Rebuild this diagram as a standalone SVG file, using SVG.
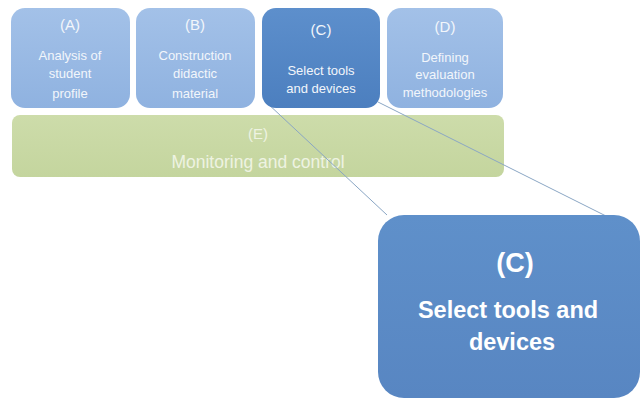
<svg xmlns="http://www.w3.org/2000/svg" width="640" height="401" viewBox="0 0 640 401">
<defs>
<linearGradient id="gLight" x1="0" y1="0" x2="0" y2="1">
<stop offset="0" stop-color="#a3c1e8"/>
<stop offset="1" stop-color="#8fb2e0"/>
</linearGradient>
<linearGradient id="gDark" x1="0" y1="0" x2="0" y2="1">
<stop offset="0" stop-color="#5d8fcc"/>
<stop offset="1" stop-color="#4c7fbf"/>
</linearGradient>
<linearGradient id="gGreen" x1="0" y1="0" x2="0" y2="1">
<stop offset="0" stop-color="#cddcaa"/>
<stop offset="1" stop-color="#c4d59e"/>
</linearGradient>
<linearGradient id="gBig" x1="0" y1="0" x2="0" y2="1">
<stop offset="0" stop-color="#5f90ca"/>
<stop offset="1" stop-color="#5886c2"/>
</linearGradient>
</defs>
<style>
text{font-family:"Liberation Sans","DejaVu Sans",sans-serif;text-anchor:middle;fill:#f2f6fb}
.lbl{font-size:15px}
.sm{font-size:13px}
.e1{font-size:15px;fill:#eef3e2}
.e2{font-size:17.5px;fill:#eef3e2}
.big1{font-size:27px;font-weight:bold;fill:#ffffff}
.big2{font-size:23.5px;font-weight:bold;fill:#ffffff}
.conn{stroke:#8aa6c4;stroke-width:1;fill:none}
</style>
<rect width="640" height="401" fill="#ffffff"/>
<g id="nodeE">
<rect x="12" y="115" width="492" height="62" rx="8" fill="url(#gGreen)"/>
<text class="e1" x="258" y="139">(E)</text>
<text class="e2" x="258" y="168">Monitoring and control</text>
</g>
<g id="connectors">
<line class="conn" x1="266" y1="102" x2="387" y2="215"/>
<line class="conn" x1="378" y1="102" x2="606" y2="216"/>
</g>
<g id="nodeA">
<rect x="11" y="8" width="119" height="100" rx="14" fill="url(#gLight)"/>
<text class="lbl" x="70" y="30">(A)</text>
<text class="sm" x="70" y="60">Analysis of</text>
<text class="sm" x="70" y="78">student</text>
<text class="sm" x="70" y="98">profile</text>
</g>
<g id="nodeB">
<rect x="136" y="8" width="119" height="100" rx="14" fill="url(#gLight)"/>
<text class="lbl" x="195" y="30">(B)</text>
<text class="sm" x="195" y="60">Construction</text>
<text class="sm" x="195" y="78">didactic</text>
<text class="sm" x="195" y="98">material</text>
</g>
<g id="nodeC">
<rect x="262" y="8" width="118" height="100" rx="14" fill="url(#gDark)"/>
<text class="lbl" x="321" y="35">(C)</text>
<text class="sm" x="321" y="75">Select tools</text>
<text class="sm" x="321" y="93">and devices</text>
</g>
<g id="nodeD">
<rect x="387" y="8" width="116" height="100" rx="14" fill="url(#gLight)"/>
<text class="lbl" x="445" y="32">(D)</text>
<text class="sm" x="445" y="62">Defining</text>
<text class="sm" x="445" y="79">evaluation</text>
<text class="sm" x="445" y="97">methodologies</text>
</g>
<g id="nodeCBig">
<rect x="378" y="215" width="262" height="183" rx="26" fill="url(#gBig)"/>
<text class="big1" x="515" y="272">(C)</text>
<text class="big2" x="508" y="318">Select tools and</text>
<text class="big2" x="512" y="350">devices</text>
</g>
</svg>
